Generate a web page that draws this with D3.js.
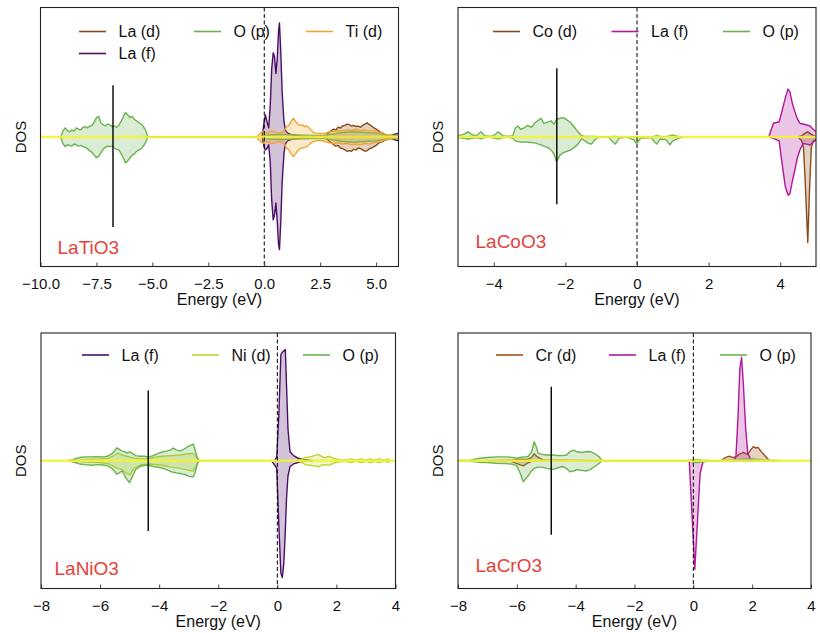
<!DOCTYPE html>
<html>
<head>
<meta charset="utf-8">
<script src="https://cdn.jsdelivr.net/npm/d3@7"></script>
<style>
  body { margin: 0; background: #fff; }
  text { font-family: "Liberation Sans", Arial, Helvetica, sans-serif; }
</style>
</head>
<body>
<script>
// rows are [energy (eV), spin up DOS, spin down DOS]

// ---- LaTiO3 ----
var latio3_LaD = [
  [2.75,0,0],[2.85,0.3,-0.25],[3.0,0.5,-0.45],[3.1,0.6,-0.6],[3.2,0.55,-0.7],[3.3,0.75,-0.65],
  [3.4,0.7,-0.85],[3.5,0.85,-0.9],[3.6,0.9,-1.0],[3.7,1.0,-1.1],[3.8,0.95,-1.05],[3.9,0.85,-1.1],
  [4.0,0.9,-0.95],[4.1,0.8,-1.0],[4.2,0.85,-0.85],[4.3,0.75,-0.9],[4.4,0.9,-1.0],[4.5,1.0,-1.1],
  [4.6,1.1,-1.05],[4.7,0.95,-0.9],[4.8,0.85,-0.85],[4.9,0.7,-0.75],[5.0,0.6,-0.65],[5.1,0.5,-0.5],
  [5.2,0.35,-0.4],[5.3,0.3,-0.35],[5.4,0.2,-0.25],[5.5,0.15,-0.2],[5.6,0.1,-0.1],[5.8,0.05,-0.05],[6.0,0.05,-0.05]
];
var latio3_LaF = [
  [-0.1,0,0],[0.0,1.2,-0.8],[0.05,1.7,-1.0],[0.12,1.2,-0.9],[0.2,0.7,-0.6],[0.27,2.5,-2.0],
  [0.33,5.2,-4.8],[0.4,6.5,-6.4],[0.46,6.2,-6.0],[0.52,4.9,-5.1],[0.58,6.0,-6.5],[0.64,8.2,-8.3],
  [0.68,8.8,-8.7],[0.74,6.5,-6.5],[0.8,3.5,-3.5],[0.88,1.2,-1.3],[0.95,0.5,-0.5],[1.05,0.3,-0.3],
  [1.2,0.2,-0.2],[1.5,0.1,-0.1],[2.0,0,0],[5.5,0,0],[5.8,0.2,-0.2],[6.0,0.3,-0.3]
];
var latio3_Op = [
  [-9.1,0,0],[-9.0,0.45,-0.5],[-8.9,0.7,-0.75],[-8.8,0.5,-0.6],[-8.7,0.4,-0.65],[-8.6,0.55,-0.7],
  [-8.5,0.45,-0.55],[-8.4,0.7,-0.6],[-8.3,0.6,-0.7],[-8.2,0.55,-0.65],[-8.1,0.75,-0.75],[-8.0,0.8,-0.8],
  [-7.9,0.7,-0.9],[-7.8,0.85,-1.05],[-7.7,0.9,-1.2],[-7.6,1.15,-1.4],[-7.5,1.5,-1.6],[-7.4,1.6,-1.5],
  [-7.3,1.1,-1.2],[-7.2,0.95,-0.95],[-7.1,0.85,-0.8],[-7.0,1.0,-0.7],[-6.9,0.95,-0.75],[-6.8,0.8,-0.7],
  [-6.7,0.85,-0.85],[-6.6,0.75,-0.95],[-6.5,0.9,-1.0],[-6.4,1.2,-1.3],[-6.3,1.55,-1.6],[-6.2,1.9,-2.0],
  [-6.1,1.7,-1.85],[-6.0,1.5,-1.6],[-5.9,1.6,-1.4],[-5.8,1.35,-1.3],[-5.7,1.25,-1.1],[-5.6,1.1,-1.0],
  [-5.5,1.0,-0.9],[-5.4,0.8,-0.7],[-5.3,0.5,-0.4],[-5.2,0,0],
  [-0.3,0,0],[0.2,0.15,-0.15],[0.8,0.2,-0.2],[1.5,0.15,-0.15],[2.5,0.1,-0.1],[3.0,0.2,-0.2],
  [3.5,0.35,-0.35],[4.0,0.4,-0.4],[4.5,0.35,-0.35],[5.0,0.3,-0.3],[5.5,0.15,-0.15],[6.0,0.1,-0.1]
];
var latio3_TiD = [
  [-0.35,0,0],[-0.2,0.25,-0.3],[-0.05,0.45,-0.5],[0.05,0.35,-0.4],[0.15,0.3,-0.35],[0.3,0.45,-0.5],
  [0.5,0.4,-0.45],[0.7,0.3,-0.35],[0.9,0.5,-0.55],[1.0,0.8,-0.85],[1.1,0.9,-1.0],[1.2,1.2,-1.3],
  [1.3,1.45,-1.5],[1.4,1.2,-1.3],[1.5,1.0,-1.05],[1.6,0.9,-0.9],[1.7,0.95,-0.85],[1.8,0.8,-0.8],
  [1.9,0.85,-0.75],[2.0,0.7,-0.6],[2.1,0.5,-0.45],[2.2,0.35,-0.35],[2.3,0.3,-0.3],[2.5,0.25,-0.25],
  [2.7,0.3,-0.35],[2.9,0.4,-0.45],[3.1,0.45,-0.5],[3.3,0.5,-0.45],[3.5,0.45,-0.55],[3.7,0.55,-0.5],
  [3.9,0.5,-0.6],[4.1,0.6,-0.55],[4.3,0.5,-0.6],[4.5,0.55,-0.5],[4.7,0.45,-0.55],[4.9,0.5,-0.45],
  [5.1,0.35,-0.4],[5.3,0.3,-0.3],[5.5,0.15,-0.2],[5.7,0.1,-0.1],[6.0,0.05,-0.05]
];

// ---- LaCoO3 ----
var lacoo3_CoD = [
  [4.5,0,0],[4.6,0.1,-0.3],[4.65,0.2,-0.8],[4.7,0.3,-3.5],[4.77,0.4,-8.15],[4.82,0.3,-4.0],
  [4.87,0.2,-0.8],[4.93,0.1,-0.3],[5.0,0.05,-0.2]
];
var lacoo3_LaF = [
  [3.68,0,0],[3.81,1.06,-0.1],[3.97,1.18,-0.3],[4.05,2.0,-2.0],[4.14,3.0,-3.8],[4.22,3.7,-4.5],
  [4.27,3.5,-4.4],[4.34,2.6,-3.4],[4.41,1.95,-2.55],[4.48,1.4,-1.6],[4.55,1.06,-1.0],[4.64,1.0,-0.5],
  [4.74,0.93,-0.55],[4.83,0.85,-0.62],[4.92,0.6,-0.4],[5.0,0.4,-0.23]
];
var lacoo3_Op = [
  [-5.0,0.1,-0.05],[-4.85,0.2,-0.1],[-4.72,0.4,-0.15],[-4.6,0.15,-0.1],[-4.48,0.1,-0.05],[-4.36,0.4,-0.15],
  [-4.25,0.1,-0.05],[-4.1,0.05,0],[-3.98,0.15,-0.1],[-3.87,0.4,-0.15],[-3.75,0.1,-0.05],[-3.6,0.05,0],
  [-3.47,0.1,-0.1],[-3.4,0.7,-0.3],[-3.33,0.85,-0.35],[-3.25,0.6,-0.4],[-3.15,0.7,-0.38],[-3.05,0.9,-0.4],
  [-2.95,0.75,-0.42],[-2.85,1.1,-0.45],[-2.75,1.3,-0.55],[-2.68,1.45,-0.6],[-2.6,1.05,-0.7],[-2.5,1.15,-0.8],
  [-2.4,1.25,-1.0],[-2.32,1.0,-1.3],[-2.25,1.35,-1.9],[-2.15,1.45,-1.4],[-2.06,1.5,-1.2],[-1.95,1.3,-1.1],
  [-1.85,1.1,-1.0],[-1.75,0.75,-0.8],[-1.65,0.4,-0.55],[-1.55,0.1,-0.15],[-1.45,0.05,-0.3],[-1.35,0.05,-0.5],
  [-1.27,0.05,-0.55],[-1.18,0.05,-0.2],[-1.05,0,0],[-0.8,0,0],[-0.7,0.05,-0.3],[-0.61,0.05,-0.55],
  [-0.5,0,-0.1],[-0.3,0,0],[-0.1,0,-0.2],[-0.01,0.05,-0.5],[0.1,0,-0.1],[0.4,0,-0.05],
  [0.48,0.05,-0.35],[0.55,0.1,-0.55],[0.65,0.05,-0.15],[0.8,0,-0.2],[0.92,0.1,-0.6],[1.0,0.15,-0.3],
  [1.15,0.05,-0.1],[1.3,0,0]
];

// ---- LaNiO3 ----
var lanio3_LaF = [
  [-0.2,0,0],[-0.1,0,-0.3],[-0.02,0.3,-0.6],[0.05,3.5,-5.0],[0.12,8.3,-8.8],[0.17,8.5,-9.15],
  [0.22,8.6,-8.0],[0.27,8.7,-5.5],[0.31,6.0,-3.0],[0.36,2.5,-1.2],[0.43,0.7,-0.45],[0.55,0.4,-0.25],
  [0.7,0.2,-0.15],[0.9,0.1,-0.05],[1.2,0,0]
];
var lanio3_NiD = [
  [-7.0,0,0],[-6.5,0.1,-0.1],[-6.0,0.15,-0.15],[-5.7,0.2,-0.25],[-5.5,0.45,-0.5],[-5.4,0.6,-0.6],
  [-5.25,0.45,-0.7],[-5.1,0.35,-1.0],[-5.0,0.3,-1.1],[-4.85,0.2,-0.6],[-4.6,0.15,-0.3],[-4.3,0.2,-0.25],
  [-4.1,0.3,-0.3],[-3.9,0.35,-0.35],[-3.6,0.4,-0.5],[-3.3,0.45,-0.6],[-3.0,0.55,-0.75],[-2.85,0.6,-0.8],
  [-2.75,0.3,-0.4],[-2.65,0,0],
  [0.6,0,0],[0.8,0.1,-0.1],[0.95,0.25,-0.3],[1.1,0.3,-0.35],[1.25,0.4,-0.4],[1.39,0.5,-0.47],
  [1.5,0.35,-0.35],[1.6,0.25,-0.3],[1.75,0.35,-0.35],[1.9,0.2,-0.2],[2.05,0.1,-0.1],[2.3,0.05,-0.05],
  [2.5,0.15,-0.15],[2.65,0.05,-0.05],[2.85,0.15,-0.15],[3.0,0.05,-0.05],[3.15,0.15,-0.15],[3.3,0.05,-0.05],
  [3.45,0.15,-0.15],[3.6,0.05,-0.05],[3.75,0.12,-0.12],[3.85,0,0]
];
var lanio3_Op = [
  [-7.1,0,0],[-6.9,0.1,-0.1],[-6.7,0.25,-0.25],[-6.5,0.3,-0.3],[-6.3,0.3,-0.35],[-6.1,0.32,-0.3],
  [-5.9,0.3,-0.33],[-5.75,0.35,-0.4],[-5.6,0.55,-0.6],[-5.5,0.8,-0.85],[-5.44,1.0,-1.05],[-5.35,0.9,-0.95],
  [-5.25,0.75,-0.8],[-5.16,0.7,-1.2],[-5.08,0.6,-1.5],[-5.0,0.7,-1.7],[-4.92,0.6,-1.3],[-4.8,0.4,-0.7],
  [-4.65,0.35,-0.45],[-4.5,0.35,-0.35],[-4.35,0.3,-0.35],[-4.2,0.4,-0.45],[-4.05,0.55,-0.5],[-3.95,0.65,-0.55],
  [-3.86,0.7,-0.6],[-3.75,0.75,-0.7],[-3.6,0.85,-0.85],[-3.52,1.0,-0.9],[-3.42,0.85,-0.95],[-3.3,0.75,-1.0],
  [-3.2,0.85,-1.05],[-3.1,1.0,-1.1],[-3.0,1.15,-1.2],[-2.9,1.25,-1.25],[-2.84,1.3,-1.25],[-2.78,0.8,-0.9],
  [-2.7,0.2,-0.2],[-2.65,0,0]
];

// ---- LaCrO3 ----
var lacro3_CrD = [
  [-7.0,0,0],[-6.2,0.05,-0.05],[-5.9,0.1,-0.3],[-5.78,0.12,-0.4],[-5.65,0.1,-0.2],[-5.5,0.25,-0.05],
  [-5.41,0.55,-0.05],[-5.3,0.3,-0.05],[-5.1,0.05,-0.05],[-4.5,0.05,0],[-3.1,0,0],
  [0.95,0,0],[1.05,0.2,0],[1.15,0.3,0],[1.25,0.35,0],[1.35,0.25,0],[1.45,0.3,0],[1.55,0.5,0],
  [1.65,0.6,0],[1.7,0.66,0],[1.78,0.55,0],[1.85,0.5,0],[1.95,0.85,0],[2.04,1.1,0],[2.12,1.0,0],
  [2.2,1.05,0],[2.28,0.8,0],[2.35,0.6,0],[2.45,0.35,0],[2.55,0.1,0],[2.62,0,0]
];
var lacro3_LaF = [
  [-0.14,0,0],[-0.05,0,-4.0],[0.05,0,-8.5],[0.14,0,-4.8],[0.23,0,-1.0],[0.34,0,0],
  [1.38,0,0],[1.45,0.4,0],[1.52,3.5,0],[1.58,7.2,0],[1.64,8.1,0],[1.7,6.0,0],[1.78,2.5,0],
  [1.85,0.6,0],[1.95,0.1,0],[2.1,0,0]
];
var lacro3_Op = [
  [-8.0,0.02,-0.02],[-7.6,0.05,-0.05],[-7.25,0.2,-0.12],[-7.0,0.25,-0.15],[-6.7,0.3,-0.2],[-6.4,0.3,-0.22],
  [-6.2,0.28,-0.25],[-6.0,0.2,-0.4],[-5.9,0.25,-0.9],[-5.78,0.3,-1.64],[-5.7,0.3,-1.4],[-5.61,0.35,-1.17],
  [-5.5,0.7,-0.8],[-5.41,1.49,-0.6],[-5.34,1.1,-0.55],[-5.28,0.6,-0.5],[-5.15,0.5,-0.5],[-4.99,0.45,-0.6],
  [-4.85,0.45,-0.65],[-4.76,0.45,-0.67],[-4.6,0.4,-0.55],[-4.45,0.4,-0.45],[-4.31,0.45,-0.6],[-4.2,0.7,-0.86],
  [-4.08,0.84,-0.8],[-3.95,0.7,-0.7],[-3.8,0.65,-0.75],[-3.65,0.7,-0.8],[-3.51,0.72,-0.7],[-3.35,0.55,-0.45],
  [-3.2,0.3,-0.2],[-3.1,0,0],
  [-0.2,0,0],[0.1,0.1,-0.15],[0.3,0.05,-0.1],[0.6,0,0],[1.0,0.02,0],[1.6,0.1,0],[2.0,0.15,0],[2.5,0.05,0],[3.0,0,0]
];

// marker line per panel: energy, top, bottom
var markE   = [-6.76, -2.24, -4.37, -4.83];
var markTop = [4.0, 5.3, 5.5, 5.8];
var markBot = [-6.95, -5.2, -5.5, -5.8];

var names = ["LaTiO3", "LaCoO3", "LaNiO3", "LaCrO3"];
var ticks1 = [-10, -7.5, -5, -2.5, 0, 2.5, 5];
var ticks2 = [-4, -2, 0, 2, 4];
var ticks3 = [-8, -6, -4, -2, 0, 2, 4];

var cBrown = "#8c4a16", cGreen = "#6bb34e", cOrange = "#f0a732", cPurple = "#4a0e67",
    cMagenta = "#b0179c", cLime = "#bcd62e", cYellow = "#f3f33c";

var panels = [
  {x0: 40.5, x1: 398.5, y0: 7.5, y1: 266.5, dom: [-10, 6], ticks: ticks1, fmt: ".1f",
   series: [["La (d)", latio3_LaD, cBrown], ["La (f)", latio3_LaF, cPurple], ["O (p)", latio3_Op, cGreen], ["Ti (d)", latio3_TiD, cOrange]],
   leg: [[38.5, 24], [38.5, 46], [153.5, 24], [265.5, 24]], lab: [17, 246.5]},
  {x0: 458, x1: 816, y0: 7.5, y1: 266.5, dom: [-5, 5], ticks: ticks2, fmt: "d",
   series: [["Co (d)", lacoo3_CoD, cBrown], ["La (f)", lacoo3_LaF, cMagenta], ["O (p)", lacoo3_Op, cGreen]],
   leg: [[35, 24], [153.5, 24], [265, 24]], lab: [17.5, 240.5]},
  {x0: 41, x1: 395.5, y0: 333, y1: 588.5, dom: [-8, 4], ticks: ticks3, fmt: "d",
   series: [["La (f)", lanio3_LaF, cPurple], ["Ni (d)", lanio3_NiD, cLime], ["O (p)", lanio3_Op, cGreen]],
   leg: [[41, 22], [151, 22], [262, 22]], lab: [13.5, 242]},
  {x0: 458, x1: 811, y0: 333, y1: 588.5, dom: [-8, 4], ticks: ticks3, fmt: "d",
   series: [["Cr (d)", lacro3_CrD, "#a04e1a"], ["La (f)", lacro3_LaF, cMagenta], ["O (p)", lacro3_Op, cGreen]],
   leg: [[38, 22], [151, 22], [262, 22]], lab: [17.5, 238.5]}
];

var svg = d3.select("body").append("svg")
    .attr("width", 820)
    .attr("height", 633);

panels.forEach(function (p, i) {
  var x = d3.scaleLinear().domain(p.dom).range([p.x0, p.x1]);
  var y = d3.scaleLinear().domain([-10, 10]).range([p.y1, p.y0]);
  var g = svg.append("g");

  g.append("clipPath").attr("id", "clip" + i)
    .append("rect").attr("x", p.x0).attr("y", p.y0)
    .attr("width", p.x1 - p.x0).attr("height", p.y1 - p.y0);
  var plot = g.append("g").attr("clip-path", "url(#clip" + i + ")");

  p.series.forEach(function (s) {
    [1, 2].forEach(function (k) {
      var area = d3.area()
          .x(function (d) { return x(d[0]); })
          .y0(y(0))
          .y1(function (d) { return y(d[k]); });
      var line = d3.line()
          .x(function (d) { return x(d[0]); })
          .y(function (d) { return y(d[k]); });
      plot.append("path").attr("d", area(s[1]))
        .attr("fill", s[2]).attr("fill-opacity", 0.25);
      plot.append("path").attr("d", line(s[1]))
        .attr("fill", "none").attr("stroke", s[2])
        .attr("stroke-width", 1.4).attr("stroke-linejoin", "round");
    });
  });

  // zero line
  plot.append("line")
    .attr("x1", p.x0).attr("x2", p.x1)
    .attr("y1", y(0)).attr("y2", y(0))
    .attr("stroke", cYellow).attr("stroke-width", 2.6).attr("opacity", 0.9);

  // marker line
  plot.append("line")
    .attr("x1", x(markE[i])).attr("x2", x(markE[i]))
    .attr("y1", y(markTop[i])).attr("y2", y(markBot[i]))
    .attr("stroke", "#000").attr("stroke-width", 1.4);

  // Fermi level
  plot.append("line")
    .attr("x1", x(0)).attr("x2", x(0))
    .attr("y1", p.y0).attr("y2", p.y1)
    .attr("stroke", "#000").attr("stroke-width", 1)
    .attr("stroke-dasharray", "4,2.5");

  // x axis, ticks pointing inward
  var ax = g.append("g")
    .attr("transform", "translate(0," + p.y1 + ")")
    .call(d3.axisBottom(x).tickValues(p.ticks)
      .tickFormat(d3.format(p.fmt)).tickSize(-4).tickPadding(11.5));
  ax.select(".domain").remove();
  ax.selectAll(".tick line").attr("stroke", "#444");
  ax.selectAll("text").attr("font-size", 15).attr("fill", "#111")
    .style("font-family", "'Liberation Sans', Arial, sans-serif");

  // frame
  g.append("rect")
    .attr("x", p.x0).attr("y", p.y0)
    .attr("width", p.x1 - p.x0).attr("height", p.y1 - p.y0)
    .attr("fill", "none").attr("stroke", "#222").attr("stroke-width", 1.1);

  g.append("text")
    .attr("x", (p.x0 + p.x1) / 2).attr("y", p.y1 + 38)
    .attr("text-anchor", "middle").attr("font-size", 16).attr("fill", "#111")
    .text("Energy (eV)");

  g.append("text")
    .attr("transform", "translate(" + (p.x0 - 15) + "," + ((p.y0 + p.y1) / 2) + ") rotate(-90)")
    .attr("text-anchor", "middle").attr("font-size", 15).attr("fill", "#111")
    .text("DOS");

  g.append("text")
    .attr("x", p.x0 + p.lab[0]).attr("y", p.y0 + p.lab[1])
    .attr("font-size", 19).attr("fill", "#e5423c")
    .text(names[i]);

  // legend
  p.series.forEach(function (s, j) {
    var lx = p.x0 + p.leg[j][0], ly = p.y0 + p.leg[j][1];
    g.append("line")
      .attr("x1", lx).attr("x2", lx + 27)
      .attr("y1", ly).attr("y2", ly)
      .attr("stroke", s[2]).attr("stroke-width", 1.6);
    g.append("text")
      .attr("x", lx + 39.5).attr("y", ly + 5.5)
      .attr("font-size", 16).attr("fill", "#111")
      .text(s[0]);
  });
});
</script>
</body>
</html>
